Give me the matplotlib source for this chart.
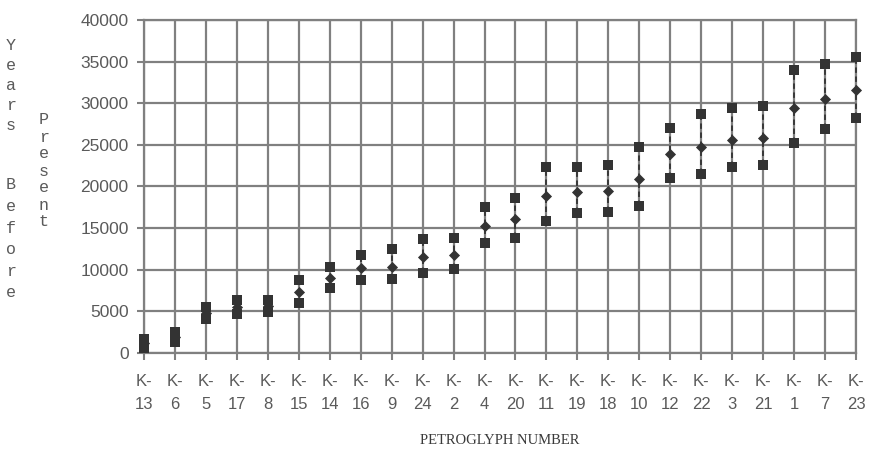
import matplotlib
matplotlib.use("Agg")
import matplotlib.pyplot as plt

categories = ["K-13", "K-6", "K-5", "K-17", "K-8", "K-15", "K-14", "K-16", "K-9", "K-24",
              "K-2", "K-4", "K-20", "K-11", "K-19", "K-18", "K-10", "K-12", "K-22", "K-3",
              "K-21", "K-1", "K-7", "K-23"]
upper = [1700, 2500, 5500, 6400, 6400, 8800, 10300, 11800, 12500, 13700,
         13800, 17500, 18600, 22300, 22400, 22600, 24700, 27000, 28700, 29400,
         29700, 34000, 34700, 35500]
middle = [1200, 1900, 4800, 5500, 5600, 7300, 9000, 10200, 10300, 11500,
          11800, 15200, 16100, 18800, 19300, 19500, 20900, 23900, 24800, 25600,
          25800, 29400, 30500, 31600]
lower = [600, 1300, 4100, 4700, 4900, 6000, 7800, 8800, 8900, 9600,
         10100, 13200, 13800, 15800, 16800, 16900, 17600, 21000, 21500, 22300,
         22600, 25200, 26900, 28200]
yticks = [0, 5000, 10000, 15000, 20000, 25000, 30000, 35000, 40000]

W, H = 871, 468
fig = plt.figure(figsize=(W / 100, H / 100), dpi=100)
ax = fig.add_axes([144 / W, 1 - 353 / H, (856 - 144) / W, (353 - 20) / H])

x = list(range(len(categories)))
mk = "#333333"
grid = "#808080"
txt = "#5a5a5a"

for xi, lo, hi in zip(x, lower, upper):
    ax.plot([xi, xi], [lo, hi], color=mk, lw=1.3, ls=(0, (3, 2)), zorder=3, clip_on=False)
ax.scatter(x, upper, marker="s", s=52, color=mk, zorder=4, clip_on=False, linewidths=0)
ax.scatter(x, lower, marker="s", s=52, color=mk, zorder=4, clip_on=False, linewidths=0)
ax.scatter(x, middle, marker="D", s=32, color=mk, zorder=5, clip_on=False, linewidths=0)

ax.set_xlim(0, len(categories) - 1)
ax.set_ylim(0, 40000)
ax.set_yticks(yticks)
ax.set_yticklabels([str(v) for v in yticks], fontsize=12.5, color=txt,
                   family=["Liberation Sans", "DejaVu Sans"])
ax.set_xticks(x)
ax.set_xticklabels([c.replace("-", "-\n") for c in categories], fontsize=12, color=txt,
                   family=["Liberation Sans Narrow", "Liberation Sans", "DejaVu Sans"],
                   linespacing=1.65)
ax.grid(True, color=grid, lw=1.6, zorder=1)
for s in ax.spines.values():
    s.set_color(grid)
    s.set_linewidth(1.6)
ax.tick_params(axis="both", colors=grid, length=5, width=1.5, labelcolor=txt)
ax.tick_params(axis="x", pad=10)
ax.tick_params(axis="y", pad=6)

ax.set_xlabel("PETROGLYPH NUMBER", fontsize=10.5, color="#3a3a3a",
              family=["Liberation Serif", "DejaVu Serif"], labelpad=16)

mono = ["Liberation Mono", "DejaVu Sans Mono"]
def vertical(word, xpx, ytop, step=13.5):
    for i, ch in enumerate(word):
        fig.text(xpx / W, 1 - (ytop + i * step) / H, ch, fontsize=12, color=txt,
                 family=mono, ha="center", va="center")

vertical("Years", 11, 45, 20)
vertical("Before", 11, 185, 21.5)
vertical("Present", 44, 120, 17)

fig.savefig("out.png", dpi=100, facecolor="white")
